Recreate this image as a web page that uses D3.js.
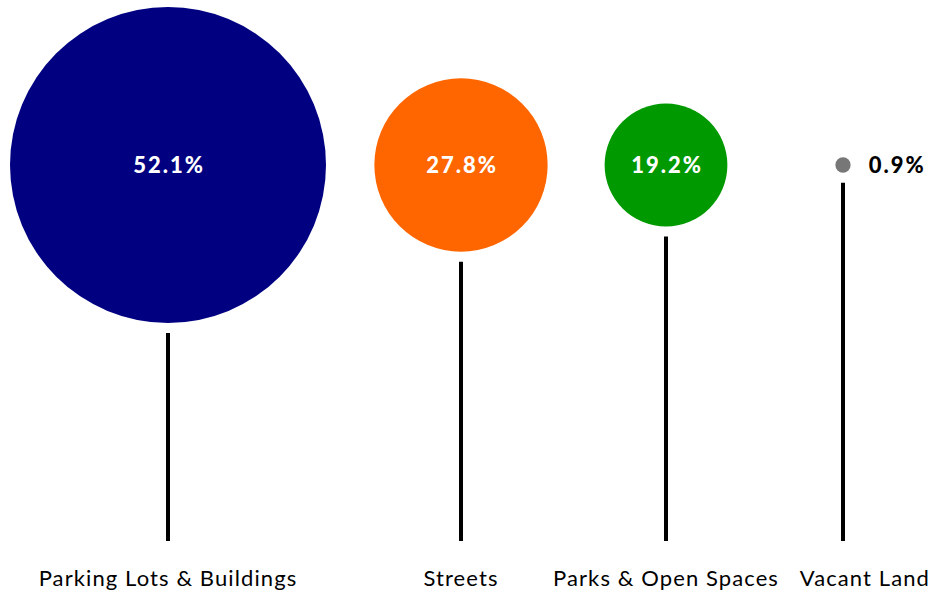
<!DOCTYPE html>
<html>
<head>
<meta charset="utf-8">
<script src="https://cdn.jsdelivr.net/npm/d3@7"></script>
<style>
  html, body { margin: 0; padding: 0; background: #fff; }
  svg { display: block; }
  text { font-family: Lato, "Open Sans", sans-serif; }
</style>
</head>
<body>
<svg id="chart" width="931" height="596"></svg>
<script>
// Land use shares
const categories = ["Parking Lots & Buildings", "Streets", "Parks & Open Spaces", "Vacant Land"];
const shares = [52.1, 27.8, 19.2, 0.9];
const colors = ["#000080", "#ff6600", "#009900", "#777777"];

const data = categories.map((c, i) => ({ name: c, value: shares[i], color: colors[i] }));

const width = 931, height = 596;
const svg = d3.select("#chart");

const centerY = 165;
const stemBottom = 541;
const labelBaseline = 586;
const stemGap = 10;

// Circle radius grows linearly with the share
const r = d3.scaleLinear().domain([0, d3.max(shares)]).range([5, 158]);

// Horizontal placement of each column
const x = d3.scaleOrdinal().domain(categories).range([168, 461, 666, 843]);

const g = svg.append("g");

const col = g.selectAll("g.col").data(data).join("g")
  .attr("class", "col")
  .attr("transform", d => `translate(${x(d.name)},0)`);

col.append("circle")
  .attr("cx", 0)
  .attr("cy", centerY)
  .attr("r", d => r(d.value))
  .attr("fill", d => d.color);

col.append("line")
  .attr("x1", 0).attr("x2", 0)
  .attr("y1", d => centerY + r(d.value) + stemGap)
  .attr("y2", stemBottom)
  .attr("stroke", "#000")
  .attr("stroke-width", 4);

// Value labels: inside the circle when it is big enough, otherwise beside it
col.append("text")
  .attr("x", d => r(d.value) > 30 ? 1 : r(d.value) + 18)
  .attr("y", centerY)
  .attr("dy", "0.36em")
  .attr("text-anchor", d => r(d.value) > 30 ? "middle" : "start")
  .attr("fill", d => r(d.value) > 30 ? "#fff" : "#000")
  .style("font-weight", 900)
  .style("font-size", "22px")
  .style("letter-spacing", "2px")
  .text(d => d.value.toFixed(1) + "%");

// Category labels under each stem, nudged where they would collide
const labels = col.append("text")
  .attr("x", 0)
  .attr("y", labelBaseline)
  .attr("text-anchor", "middle")
  .attr("fill", "#000")
  .style("font-size", "22px")
  .style("letter-spacing", "1.1px")
  .text(d => d.name);

let prevRight = -Infinity;
const minGap = 24;
labels.each(function(d) {
  const w = this.getComputedTextLength();
  const cx = x(d.name);
  let left = cx - w / 2;
  if (left < prevRight + minGap) left = prevRight + minGap;
  if (left + w > width - 1) left = width - 1 - w;
  d3.select(this).attr("x", left + w / 2 - cx);
  prevRight = left + w;
});
</script>
</body>
</html>
